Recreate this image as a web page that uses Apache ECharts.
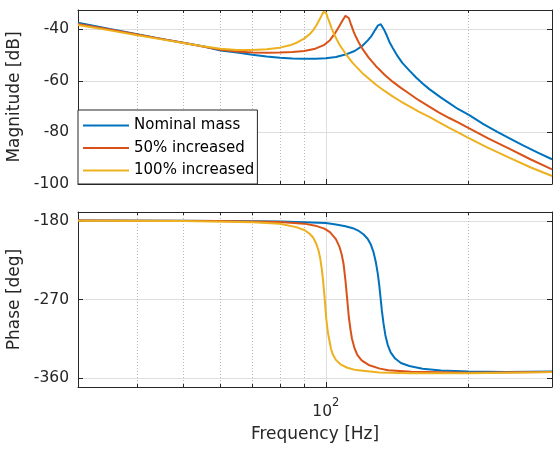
<!DOCTYPE html>
<html>
<head>
<meta charset="utf-8">
<script src="https://cdn.jsdelivr.net/npm/echarts@6/dist/echarts.min.js"></script>
<style>
html,body{margin:0;padding:0;background:#fff;}
#c{width:553px;height:453px;}
</style>
</head>
<body>
<div id="c"></div>
<script>
// ---------- data ----------
const seriesNames = ['Nominal mass', '50% increased', '100% increased'];

const nominalMagFreq = [30, 35, 40, 45, 50, 55, 60, 65, 70, 75, 80, 85, 90, 95, 100, 105, 110, 115, 119.6, 122.6, 125, 127, 128.7, 129.8, 130.6, 131.5, 132.9, 134.5, 136.1, 138.5, 141.7, 145, 150.1, 155, 160, 165.3, 175, 182.1, 190, 200.7, 215, 230, 243.6, 260, 280, 300];
const nominalMag     = [-37.4, -39.9, -41.9, -43.7, -45.2, -46.6, -48.2, -49.0, -49.9, -50.5, -51.0, -51.3, -51.4, -51.4, -51.2, -50.7, -49.8, -48.4, -46.3, -44.3, -42.4, -40.3, -38.6, -38.0, -38.0, -38.5, -40.4, -42.4, -44.8, -47.3, -50.4, -53.0, -56.0, -58.7, -61.0, -63.2, -66.5, -68.6, -70.9, -73.3, -76.8, -79.8, -82.2, -84.9, -87.8, -90.4];

const increased50MagFreq = [30, 35, 40, 45, 50, 55, 60, 65, 70, 75, 80, 85, 90, 95, 99.3, 102, 104.5, 106.8, 108.9, 110, 110.8, 111.8, 113.1, 114.5, 115.8, 117.5, 119.6, 123, 127.6, 133, 138.3, 144, 150.1, 157, 165.3, 173, 182.1, 190, 200.7, 220, 243.6, 270, 300];
const increased50Mag     = [-37.9, -40.1, -42.0, -43.7, -45.2, -46.7, -47.9, -48.6, -49.0, -49.1, -49.0, -48.8, -48.4, -47.5, -46.0, -44.2, -41.6, -38.7, -36.0, -34.8, -34.4, -35.6, -38.3, -41.0, -43.0, -45.3, -47.7, -50.9, -54.3, -57.6, -60.3, -62.7, -65.0, -67.5, -70.0, -72.2, -74.4, -76.1, -78.4, -82.3, -86.3, -90.4, -94.3];

const increased100MagFreq = [30, 35, 40, 45, 50, 55, 60, 65, 70, 75, 80, 84, 87, 90, 92.4, 94, 95.4, 96.8, 98, 98.8, 99.4, 100.1, 100.9, 101.8, 103, 104.3, 105.5, 106.8, 110, 114, 119.6, 127.6, 133, 138.3, 144, 150.1, 157, 165.3, 173, 182.1, 190, 200.7, 220, 243.6, 270, 300];
const increased100Mag     = [-38.3, -40.4, -42.3, -43.9, -45.3, -46.6, -47.5, -48.0, -48.0, -47.7, -47.1, -46.2, -45.1, -43.6, -41.9, -40.4, -38.6, -36.5, -34.6, -33.3, -32.7, -33.6, -35.4, -37.3, -39.9, -42.2, -44.0, -45.9, -49.4, -53.1, -57.1, -61.5, -63.9, -66.0, -68.0, -69.9, -71.9, -74.0, -76.0, -78.2, -80.0, -82.3, -86.0, -89.8, -93.5, -96.9];

const nominalPhaseFreq = [30, 50, 70, 80, 90, 100, 105, 110, 114, 117, 120, 122.5, 124.5, 126, 127.5, 128.7, 129.7, 130.5, 131.3, 132.3, 133.5, 135, 137, 140, 144, 150, 160, 175, 200, 240, 300];
const nominalPhase     = [-179.8, -180.1, -180.6, -180.9, -181.6, -182.6, -184.2, -186.3, -188.5, -191.2, -195.5, -200.5, -207.5, -215.5, -227.5, -240.5, -255.0, -269.0, -283.0, -297.0, -310.5, -321.5, -330.5, -337.5, -342.5, -346.0, -349.2, -351.2, -352.4, -352.8, -352.4];

const increased50PhaseFreq = [30, 60, 80, 90, 95, 99.3, 102, 103.4, 105, 106.8, 108, 109, 110, 110.9, 111.8, 112.8, 113.5, 115, 116.6, 119, 123.1, 130, 135.4, 151.5, 200, 300];
const increased50Phase     = [-179.8, -180.4, -181.3, -183.3, -185.6, -189.0, -193.0, -196.8, -201.0, -209.5, -218.5, -229.5, -248.5, -269.0, -290.0, -305.5, -314.5, -326.0, -333.5, -339.5, -344.8, -349.0, -350.8, -352.7, -353.7, -352.8];

const increased100PhaseFreq = [30, 50, 70, 80, 86.6, 90, 92.4, 94, 95.4, 96.5, 97.3, 98, 98.6, 99.4, 100.2, 101, 101.5, 102.5, 103.4, 105, 107.6, 111, 115.8, 129.7, 150, 200, 300];
const increased100Phase     = [-179.9, -180.3, -181.7, -183.5, -187.3, -190.5, -194.8, -199.2, -206.0, -214.0, -223.0, -234.5, -247.0, -267.5, -292.0, -307.5, -314.0, -326.0, -332.5, -339.0, -344.5, -348.0, -350.7, -353.5, -354.2, -354.2, -353.0];

const freqRange = [30, 300];
const minorFreqTicks = [40, 50, 60, 70, 80, 90, 200];
const magRange = [-100, -32.5];
const magTicks = [-100, -80, -60, -40];
const phaseRange = [-370, -170];
const phaseTicks = [-360, -270, -180];

// ---------- styling ----------
const colors = ['#0072BD', '#D95319', '#EDB120'];
const FONT = 'DejaVu Sans';
const AX = '#262626';
const GRIDC = '#dedede';
const MINORC = '#b9b9b9';

const grids = [
  {left: 78, top: 10, width: 474, height: 174, containLabel: false, outerBoundsMode: 'none'},
  {left: 78, top: 212, width: 474, height: 175, containLabel: false, outerBoundsMode: 'none'}
];

const pair = (xs, ys) => xs.map((x, i) => [x, ys[i]]);

function xAxesFor(g) {
  const base = {
    type: 'log', logBase: 10, gridIndex: g, min: freqRange[0], max: freqRange[1],
    axisLine: {show: true, onZero: false, lineStyle: {color: AX, width: 1}},
    axisTick: {show: true, inside: true, length: 5, lineStyle: {color: AX, width: 1}}
  };
  return [
    Object.assign({}, base, {
      position: 'bottom',
      axisLabel: {
        show: g === 1, margin: 10.5,
        formatter: v => (Math.abs(v - 100) < 1e-6 ? '{b|10}{s|2}' : ''),
        rich: {
          b: {fontFamily: FONT, fontSize: 15.5, color: AX, lineHeight: 28},
          s: {fontFamily: FONT, fontSize: 11.5, color: AX, lineHeight: 12, verticalAlign: 'top'}
        }
      },
      splitLine: {show: true, lineStyle: {color: GRIDC, width: 1}},
      name: g === 1 ? 'Frequency [Hz]' : '',
      nameLocation: 'middle', nameGap: 39,
      nameTextStyle: {fontFamily: FONT, fontSize: 17, color: AX}
    }),
    Object.assign({}, base, {
      position: 'top',
      axisLabel: {show: false},
      splitLine: {show: false}
    })
  ];
}

function yAxesFor(g) {
  const isMag = g === 0;
  const range = isMag ? magRange : phaseRange;
  const ticks = isMag ? magTicks : phaseTicks;
  const common = {
    type: 'value', gridIndex: g, min: range[0], max: range[1],
    axisLine: {show: true, onZero: false, lineStyle: {color: AX, width: 1}},
    axisTick: {show: true, inside: true, length: 5, lineStyle: {color: AX, width: 1}, customValues: ticks}
  };
  return [
    Object.assign({}, common, {
      position: 'left',
      axisLabel: {
        show: true, margin: 9, customValues: ticks,
        fontFamily: FONT, fontSize: 15.5, color: AX
      },
      splitLine: {show: true, lineStyle: {color: GRIDC, width: 1}},
      name: isMag ? 'Magnitude [dB]' : 'Phase [deg]',
      nameLocation: 'middle', nameGap: 52.5,
      nameTextStyle: {fontFamily: FONT, fontSize: 17, color: AX}
    }),
    Object.assign({}, common, {
      position: 'right',
      axisLabel: {show: false},
      splitLine: {show: false}
    })
  ];
}

// minor grid (dotted) and minor ticks, placed through the axes' own scale
function minorSeries(g, yRange, plotH) {
  const xi = g * 2, yi = g * 2;
  const d = (yRange[1] - yRange[0]) * 3 / plotH;
  const tickSegs = [];
  minorFreqTicks.forEach(f => {
    tickSegs.push([{coord: [f, yRange[0]]}, {coord: [f, yRange[0] + d]}]);
    tickSegs.push([{coord: [f, yRange[1]]}, {coord: [f, yRange[1] - d]}]);
  });
  return [
    {
      type: 'line', xAxisIndex: xi, yAxisIndex: yi, data: [], silent: true, z: 1,
      markLine: {
        silent: true, z: 1, symbol: ['none', 'none'], label: {show: false},
        lineStyle: {color: MINORC, width: 1, type: [1, 2]},
        emphasis: {disabled: true},
        data: minorFreqTicks.map(f => ({xAxis: f}))
      }
    },
    {
      type: 'line', xAxisIndex: xi, yAxisIndex: yi, data: [], silent: true, z: 1,
      markLine: {
        silent: true, z: 1, symbol: ['none', 'none'], label: {show: false},
        lineStyle: {color: AX, width: 1, type: 'solid'},
        emphasis: {disabled: true},
        data: tickSegs
      }
    }
  ];
}

function curve(name, idx, g, data) {
  return {
    name: name, type: 'line', xAxisIndex: g * 2, yAxisIndex: g * 2,
    data: data, showSymbol: false, symbol: 'none', z: 3, smooth: false,
    lineStyle: {color: colors[idx], width: 2},
    itemStyle: {color: colors[idx]},
    emphasis: {disabled: true}
  };
}

const series = [].concat(
  minorSeries(0, magRange, grids[0].height),
  minorSeries(1, phaseRange, grids[1].height),
  [
    curve(seriesNames[0], 0, 0, pair(nominalMagFreq, nominalMag)),
    curve(seriesNames[1], 1, 0, pair(increased50MagFreq, increased50Mag)),
    curve(seriesNames[2], 2, 0, pair(increased100MagFreq, increased100Mag)),
    curve(seriesNames[0], 0, 1, pair(nominalPhaseFreq, nominalPhase)),
    curve(seriesNames[1], 1, 1, pair(increased50PhaseFreq, increased50Phase)),
    curve(seriesNames[2], 2, 1, pair(increased100PhaseFreq, increased100Phase))
  ]
);

// legend icon: a 2px horizontal bar centred in a 46x14 box
const legendLineIcon = 'path://M0,0L46,0L46,0.01L0,0.01Z M0,13.99L46,13.99L46,14L0,14Z M0,6L46,6L46,8L0,8Z';

const chart = echarts.init(document.getElementById('c'), null, {renderer: 'canvas', width: 553, height: 453});
chart.setOption({
  animation: false,
  backgroundColor: '#ffffff',
  grid: grids,
  xAxis: [].concat(xAxesFor(0), xAxesFor(1)),
  yAxis: [].concat(yAxesFor(0), yAxesFor(1)),
  legend: {
    data: seriesNames,
    icon: legendLineIcon,
    orient: 'vertical',
    left: 78, top: 110,
    itemWidth: 46, itemHeight: 14, itemGap: 7.5,
    padding: [8, 3, 6, 5],
    backgroundColor: '#ffffff',
    borderColor: AX, borderWidth: 1, borderRadius: 0,
    textStyle: {fontFamily: FONT, fontSize: 15, color: '#000'},
    selectedMode: false,
    z: 10
  },
  series: series
});
</script>
</body>
</html>
